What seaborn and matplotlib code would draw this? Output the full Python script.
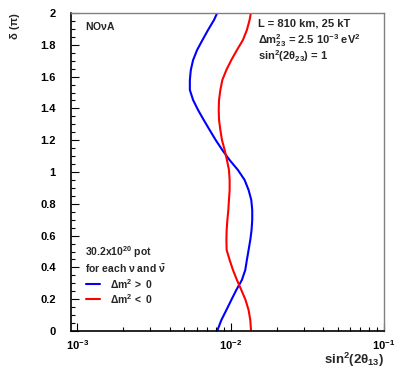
import numpy as np
import pandas as pd
import matplotlib
matplotlib.use("Agg")
import matplotlib.pyplot as plt
import matplotlib.ticker as mticker
import seaborn as sns

# ---- data ----
delta = [2.0, 1.956, 1.893, 1.830, 1.767, 1.704, 1.642, 1.579, 1.516, 1.453, 1.390,
         1.327, 1.264, 1.201, 1.138, 1.075, 1.013, 0.950, 0.887, 0.824, 0.761,
         0.698, 0.635, 0.572, 0.509, 0.447, 0.384, 0.321, 0.258, 0.195, 0.132,
         0.069, 0.0]
sin2_normal = [0.00817, 0.00779, 0.00712, 0.00655, 0.00604, 0.00569, 0.00550,
               0.00542, 0.00542, 0.00569, 0.00613, 0.00668, 0.00730, 0.00799,
               0.00883, 0.00985, 0.01115, 0.01233, 0.01309, 0.01363, 0.01383,
               0.01383, 0.01369, 0.01343, 0.01309, 0.01276, 0.01246, 0.01184,
               0.01089, 0.01010, 0.00938, 0.00870, 0.00817]
sin2_inverted = [0.01355, 0.01329, 0.01276, 0.01202, 0.01099, 0.01010, 0.00938,
                 0.00883, 0.00857, 0.00840, 0.00836, 0.00840, 0.00857, 0.00878,
                 0.00914, 0.00946, 0.00975, 0.00985, 0.00985, 0.00975, 0.00966,
                 0.00952, 0.00942, 0.00938, 0.00942, 0.00985, 0.01035, 0.01099,
                 0.01174, 0.01251, 0.01309, 0.01343, 0.01359]
series_labels = ["$\\Delta$m$^2$ >  0", "$\\Delta$m$^2$ <  0"]
series_colors = ["#0000ff", "#ff0000"]
x_ticks = [1e-3, 1e-2, 1e-1]
y_ticks = [0, 0.2, 0.4, 0.6, 0.8, 1.0, 1.2, 1.4, 1.6, 1.8, 2.0]

sns.set_style("ticks")
plt.rcParams["font.family"] = ["Liberation Sans", "DejaVu Sans"]
plt.rcParams["font.weight"] = "bold"
plt.rcParams["mathtext.fontset"] = "custom"
plt.rcParams["mathtext.rm"] = "Liberation Sans:bold"
plt.rcParams["mathtext.it"] = "Liberation Sans:bold"
plt.rcParams["mathtext.bf"] = "Liberation Sans:bold"
plt.rcParams["mathtext.default"] = "rm"

fig = plt.figure(figsize=(4.02, 3.74), dpi=100)
ax = fig.add_axes([71/402, 43/374, (384-71)/402, (331-13)/374])

df = pd.concat([
    pd.DataFrame({"sin2": sin2_normal, "delta": delta, "h": series_labels[0]}),
    pd.DataFrame({"sin2": sin2_inverted, "delta": delta, "h": series_labels[1]}),
])
sns.lineplot(data=df, x="sin2", y="delta", hue="h", palette=series_colors,
             sort=False, estimator=None, linewidth=1.5, ax=ax, legend=False)

ax.set_xscale("log")
ax.set_xlim(0.00091, 0.1)
ax.set_ylim(0, 2)
ax.set_xticks(x_ticks)
ax.xaxis.set_major_formatter(mticker.LogFormatterMathtext())
ax.xaxis.set_minor_locator(mticker.LogLocator(base=10, subs=np.arange(2, 10)))
ax.xaxis.set_minor_formatter(mticker.NullFormatter())
ax.set_yticks(y_ticks)
ax.yaxis.set_major_formatter(mticker.FuncFormatter(lambda v, p: f"{v:g}"))
ax.yaxis.set_minor_locator(mticker.MultipleLocator(0.05))
ax.set_xlabel("")
ax.set_ylabel("")

ax.tick_params(which="both", direction="in", top=False, right=False,
               colors="black", labelsize=8, width=0.8)
ax.tick_params(which="major", length=6)
ax.tick_params(which="minor", length=3)
ax.tick_params(axis="y", which="major", pad=11)
ax.tick_params(axis="x", which="major", pad=5)
for s in ["left", "bottom"]:
    ax.spines[s].set_color("black")
    ax.spines[s].set_linewidth(1.2)
for s in ["top", "right"]:
    ax.spines[s].set_color("#808080")
    ax.spines[s].set_linewidth(1.0)

# axis titles ROOT-style
fig.text(15/402, 1 - 13/374, "δ (π)", rotation=90, ha="center", va="top", fontsize=8)
fig.text(384/402, 1 - 351/374, "sin$^2$(2θ$_{13}$)", ha="right", va="top", fontsize=9.5)

# annotations
fig.text(85/402, 1 - 20/374, "NO$\\nu$A", ha="left", va="top", fontsize=7.5)
fig.text(258/402, 1 - 19/374, "L = 810 km, 25 kT", ha="left", va="top", fontsize=8)
fig.text(258/402, 1 - 32/374, "$\\Delta$m$_{23}^{2}$ = 2.5 10$^{-3}$ eV$^2$", ha="left", va="top", fontsize=8)
fig.text(258/402, 1 - 48/374, "sin$^2$(2θ$_{23}$) = 1", ha="left", va="top", fontsize=8)

fig.text(85/402, 1 - 252/374, "30.2x10$^{20}$ pot", ha="left", va="center", fontsize=7.5)
fig.text(85/402, 1 - 269/374, "for each $\\nu$ and $\\bar{\\nu}$", ha="left", va="center", fontsize=7.5)
for i, (lab, col) in enumerate(zip(series_labels, series_colors)):
    yy = 1 - (284 + 15 * i) / 374
    fig.add_artist(plt.Line2D([86/402, 100/402], [yy, yy], color=col, lw=1.5,
                              transform=fig.transFigure))
    fig.text(110/402, yy, lab, ha="left", va="center", fontsize=7.5)

fig.savefig("out.png", dpi=100)
